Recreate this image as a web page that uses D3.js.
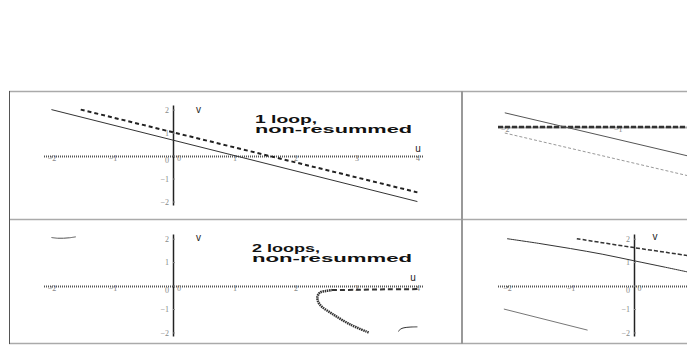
<!DOCTYPE html>
<html>
<head>
<meta charset="utf-8">
<script src="https://cdn.jsdelivr.net/npm/d3@7"></script>
<style>
  body { margin: 0; background: #fff; }
  svg { display: block; }
</style>
</head>
<body>
<svg id="chart" width="687" height="349"></svg>
<script>

// tick values
var xTicks = [-2, -1, 0, 1, 2, 3, 4];
var xTicksTopRight = [-2, -1];
var xTicksBotRight = [-2, -1, 0];
var yTicks = [-2, -1, 0, 1, 2];

// top-left: 1 loop, non-resummed
var loop1Solid = [[-2, 2], [4, -2]];
var loop1Dashed = [[-1.52, 2], [4, -1.6]];

// top-right
var trSolid = [[-2, 0.33], [-0.35, -0.69]];
var trDashed = [[-2, -0.14], [-0.35, -1.15]];
var trZero = [[-2.06, 0], [0.5, 0]];

// bottom-left: 2 loops, non-resummed
var loop2Arc = [[-2.0, 2.05], [-1.9, 2.02], [-1.8, 2.02], [-1.7, 2.04], [-1.6, 2.08]];
var loop2Nose = [[3.2, -2.0], [2.9, -1.66], [2.62, -1.23], [2.4, -0.81], [2.36, -0.51],
                 [2.4, -0.3], [2.5, -0.23], [2.6, -0.19]];
var loop2Upper = [[2.6, -0.19], [3.0, -0.18], [3.5, -0.16], [4.0, -0.15]];
var loop2Hook = [[3.69, -1.96], [3.72, -1.86], [3.78, -1.8], [3.88, -1.77], [4.0, -1.76]];

// bottom-right
var brSolid = [[-2, 2.0], [-1.5, 1.8], [-1, 1.58], [-0.5, 1.34], [0, 1.06], [0.5, 0.78], [0.9, 0.55]];
var brDashed = [[-0.9, 2.0], [0, 1.62], [0.9, 1.26]];
var brLower = [[-2.05, -1.0], [-0.73, -1.9]];

var svg = d3.select("#chart");

// table frame
svg.append("line").attr("x1", 9).attr("x2", 687).attr("y1", 91.5).attr("y2", 91.5)
    .attr("stroke", "#aaa").attr("stroke-width", 1.5);
svg.append("line").attr("x1", 9).attr("x2", 687).attr("y1", 219.5).attr("y2", 219.5)
    .attr("stroke", "#aaa").attr("stroke-width", 1.5);
svg.append("line").attr("x1", 9).attr("x2", 687).attr("y1", 343.5).attr("y2", 343.5)
    .attr("stroke", "#aaa").attr("stroke-width", 1.5);
svg.append("line").attr("x1", 9.5).attr("x2", 9.5).attr("y1", 91).attr("y2", 344)
    .attr("stroke", "#555").attr("stroke-width", 1);
svg.append("line").attr("x1", 462).attr("x2", 462).attr("y1", 91).attr("y2", 344)
    .attr("stroke", "#999").attr("stroke-width", 2);


function fmt(d) {
    return d < 0 ? "\u2212" + (-d) : "" + d;
}

function panel(cfg) {
    var g = svg.append("g");
    var x = d3.scaleLinear().domain(cfg.xDom).range(cfg.xRange);
    var y = d3.scaleLinear().domain(cfg.yDom).range(cfg.yRange);

    // x axis (hatched Maple look)
    var xa = g.append("g")
        .attr("transform", "translate(0," + Math.round(y(0)) + ")")
        .call(d3.axisBottom(x).tickValues(cfg.xTicks).tickSize(2).tickSizeOuter(0).tickFormat(fmt));
    xa.select(".domain")
        .attr("stroke", "#555").attr("stroke-width", 2).attr("stroke-dasharray", "1,1");
    xa.selectAll(".tick line").attr("stroke", "#888");
    xa.selectAll(".tick text")
        .attr("y", 4.5).attr("dy", 0)
        .attr("x", function (d) { return d === 0 ? 5 : 0; })
        .attr("fill", "#888")
        .attr("font-family", "Liberation Serif, serif")
        .attr("font-size", 8);

    // y axis
    if (cfg.yTicks.length) {
        var ya = g.append("g")
            .attr("transform", "translate(" + Math.round(x(0)) + ",0)")
            .call(d3.axisRight(y).tickValues(cfg.yTicks).tickSize(2).tickSizeOuter(0).tickFormat(fmt));
        ya.select(".domain").attr("stroke", "#222").attr("stroke-width", 1.5);
        ya.selectAll(".tick line").attr("stroke", "#888");
        ya.selectAll(".tick text")
            .attr("x", -4).attr("dy", function (d) { return d === 0 ? "0.9em" : "0.35em"; })
            .attr("text-anchor", "end")
            .attr("fill", "#888")
            .attr("font-family", "Liberation Serif, serif")
            .attr("font-size", 8);
    }

    var line = d3.line().x(function (d) { return x(d[0]); }).y(function (d) { return y(d[1]); })
        .curve(d3.curveCatmullRom);

    cfg.series.forEach(function (s) {
        g.append("path")
            .datum(s.data)
            .attr("d", line)
            .attr("fill", "none")
            .attr("stroke", s.color)
            .attr("stroke-width", s.width)
            .attr("stroke-dasharray", s.dash || null);
    });

    if (cfg.uLabel) {
        g.append("text").attr("x", cfg.uLabel[0]).attr("y", cfg.uLabel[1])
            .attr("text-anchor", "middle")
            .attr("font-family", "Liberation Sans, Arial, sans-serif")
            .attr("font-size", 10).attr("fill", "#222").text("u");
    }
    if (cfg.vLabel) {
        g.append("text").attr("x", cfg.vLabel[0]).attr("y", cfg.vLabel[1])
            .attr("text-anchor", "middle")
            .attr("font-family", "Liberation Sans, Arial, sans-serif")
            .attr("font-size", 10).attr("fill", "#222").text("v");
    }
    if (cfg.title) {
        cfg.title.forEach(function (t) {
            g.append("text").attr("x", t.x).attr("y", t.y)
                .attr("font-family", "Liberation Sans, Arial, sans-serif")
                .attr("font-weight", "bold")
                .attr("font-size", 10)
                .attr("fill", "#111")
                .attr("textLength", t.w)
                .attr("lengthAdjust", "spacingAndGlyphs")
                .text(t.text);
        });
    }
}

// top-left
panel({
    xDom: [-2.13, 4.1], xRange: [43.5, 423.5],
    yDom: [-2.15, 2.2], yRange: [205, 105],
    xTicks: xTicks, yTicks: yTicks,
    series: [
        {data: loop1Solid, color: "#333", width: 1},
        {data: loop1Dashed, color: "#222", width: 2, dash: "4,3"}
    ],
    uLabel: [418, 152], vLabel: [198.5, 113],
    title: [
        {text: "1 loop,", x: 255, y: 123, w: 62},
        {text: "non-resummed", x: 255, y: 133, w: 157}
    ]
});

// top-right (v axis lies off to the right)
panel({
    xDom: [-2.06, 0.5], xRange: [498, 787],
    yDom: [-1.5, 0.4], yRange: [191.5, 109.8],
    xTicks: xTicksTopRight, yTicks: [],
    series: [
        {data: trZero, color: "#333", width: 2.5, dash: "5,2"},
        {data: trSolid, color: "#555", width: 1},
        {data: trDashed, color: "#999", width: 1, dash: "3,2"}
    ]
});

// bottom-left
panel({
    xDom: [-2.13, 4.1], xRange: [43.5, 423.5],
    yDom: [-2.15, 2.2], yRange: [336, 234],
    xTicks: xTicks, yTicks: yTicks,
    series: [
        {data: loop2Arc, color: "#555", width: 1},
        {data: loop2Nose, color: "#333", width: 2.5, dash: "1.5,0.7"},
        {data: loop2Upper, color: "#333", width: 2, dash: "5,3"},
        {data: loop2Hook, color: "#333", width: 1}
    ],
    uLabel: [413, 281], vLabel: [198.5, 241],
    title: [
        {text: "2 loops,", x: 252, y: 252, w: 68},
        {text: "non-resummed", x: 252, y: 262, w: 160}
    ]
});

// bottom-right
panel({
    xDom: [-2.15, 0.9], xRange: [497.5, 691],
    yDom: [-2.15, 2.2], yRange: [336, 234],
    xTicks: xTicksBotRight, yTicks: yTicks,
    series: [
        {data: brSolid, color: "#333", width: 1},
        {data: brDashed, color: "#333", width: 1.5, dash: "4,2"},
        {data: brLower, color: "#777", width: 1}
    ],
    vLabel: [655, 240]
});

</script>
</body>
</html>
